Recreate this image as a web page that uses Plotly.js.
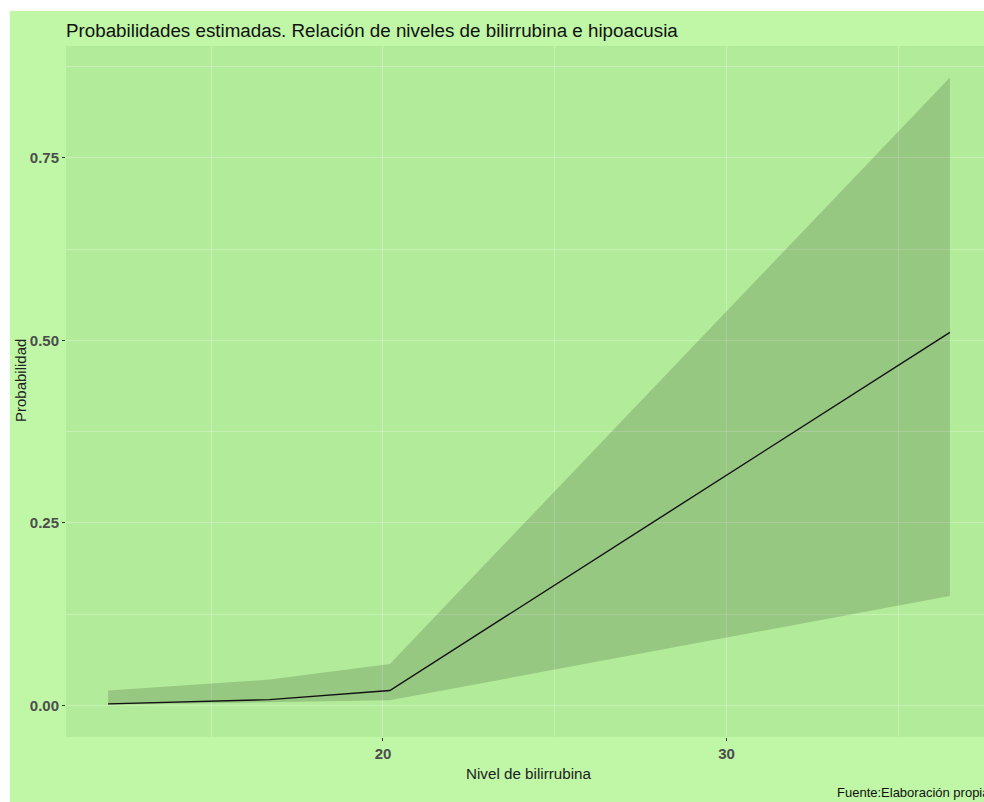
<!DOCTYPE html>
<html>
<head>
<meta charset="utf-8">
<script src="https://cdn.plot.ly/plotly-3.0.1.min.js"></script>
<style>
  html, body { margin: 0; padding: 0; background: #ffffff; overflow: hidden; width: 984px; height: 802px; }
  #chart { position: absolute; left: 10px; top: 11px; width: 1000px; height: 791px; }
</style>
</head>
<body>
<div id="chart"></div>
<script>
// Data
const bilirrubina = [12.0, 16.7, 20.2, 36.5];
const probabilidad = [0.0023, 0.0082, 0.0206, 0.511];
const limiteInferior = [0.001, 0.0045, 0.0073, 0.150];
const limiteSuperior = [0.0206, 0.0356, 0.057, 0.860];

const xTicks = [20, 30];
const yTicks = [0, 0.25, 0.5, 0.75];
const yTickLabels = ['0.00', '0.25', '0.50', '0.75'];

const FONT = '"Liberation Sans", Arial, sans-serif';
const outerBg = 'rgb(191,247,166)';
const panelBg = 'rgb(178,235,153)';
const gridCol = 'rgba(255,255,255,0.28)';

const traces = [
  {
    x: bilirrubina, y: limiteInferior, type: 'scatter', mode: 'lines',
    line: { width: 0, color: 'rgba(0,0,0,0)' }, hoverinfo: 'skip', showlegend: false
  },
  {
    x: bilirrubina, y: limiteSuperior, type: 'scatter', mode: 'lines',
    fill: 'tonexty', fillcolor: 'rgba(0,0,0,0.15)',
    line: { width: 0, color: 'rgba(0,0,0,0)' }, hoverinfo: 'skip', showlegend: false
  },
  {
    x: bilirrubina, y: probabilidad, type: 'scatter', mode: 'lines',
    line: { color: '#111111', width: 1.4 }, showlegend: false
  }
];

const layout = {
  width: 1000, height: 791,
  paper_bgcolor: outerBg, plot_bgcolor: panelBg,
  margin: { l: 56, r: 18, t: 35, b: 65 },
  font: { family: FONT, color: '#222' },
  title: {
    text: 'Probabilidades estimadas. Relación de niveles de bilirrubina e hipoacusia',
    font: { family: FONT, size: 18.8, color: '#111' },
    xref: 'paper', x: 0, xanchor: 'left',
    yref: 'container', y: 1 - 19 / 791, yanchor: 'middle'
  },
  xaxis: {
    range: [10.775, 37.725],
    tickvals: xTicks, ticktext: xTicks.map(String),
    showgrid: true, gridcolor: gridCol, gridwidth: 1,
    minor: { tickvals: [15, 25, 35], showgrid: true, gridcolor: gridCol, gridwidth: 1, ticks: '' },
    zeroline: false, showline: false,
    ticks: 'outside', ticklen: 3, tickcolor: '#333', tickwidth: 1,
    tickfont: { family: FONT, size: 15, color: '#4d4d4d', weight: 'bold' },
    title: { text: '' }
  },
  yaxis: {
    range: [-0.043, 0.903],
    tickvals: yTicks, ticktext: yTickLabels,
    showgrid: true, gridcolor: gridCol, gridwidth: 1,
    minor: { tickvals: [0.125, 0.375, 0.625, 0.875], showgrid: true, gridcolor: gridCol, gridwidth: 1, ticks: '' },
    zeroline: false, showline: false,
    ticks: 'outside', ticklen: 3, tickcolor: '#333', tickwidth: 1,
    tickfont: { family: FONT, size: 15, color: '#4d4d4d', weight: 'bold' },
    title: { text: '' }
  },
  annotations: [
    {
      text: 'Probabilidad', xref: 'paper', yref: 'paper',
      x: -46 / 926, y: (737 - 381) / 691, xanchor: 'center', yanchor: 'middle',
      textangle: -90, showarrow: false,
      font: { family: FONT, size: 15, color: '#222' }
    },
    {
      text: 'Nivel de bilirrubina', xref: 'paper', yref: 'paper',
      x: (528 - 66) / 926, y: -(773 - 737) / 691, xanchor: 'center', yanchor: 'middle',
      showarrow: false,
      font: { family: FONT, size: 15.2, color: '#222' }
    },
    {
      text: 'Fuente:Elaboración propia', xref: 'paper', yref: 'paper',
      x: 1, y: -(792 - 737) / 691, xanchor: 'right', yanchor: 'middle',
      showarrow: false,
      font: { family: FONT, size: 13, color: '#111' }
    }
  ]
};

Plotly.newPlot('chart', traces, layout, { displayModeBar: false, staticPlot: true });
</script>
</body>
</html>
